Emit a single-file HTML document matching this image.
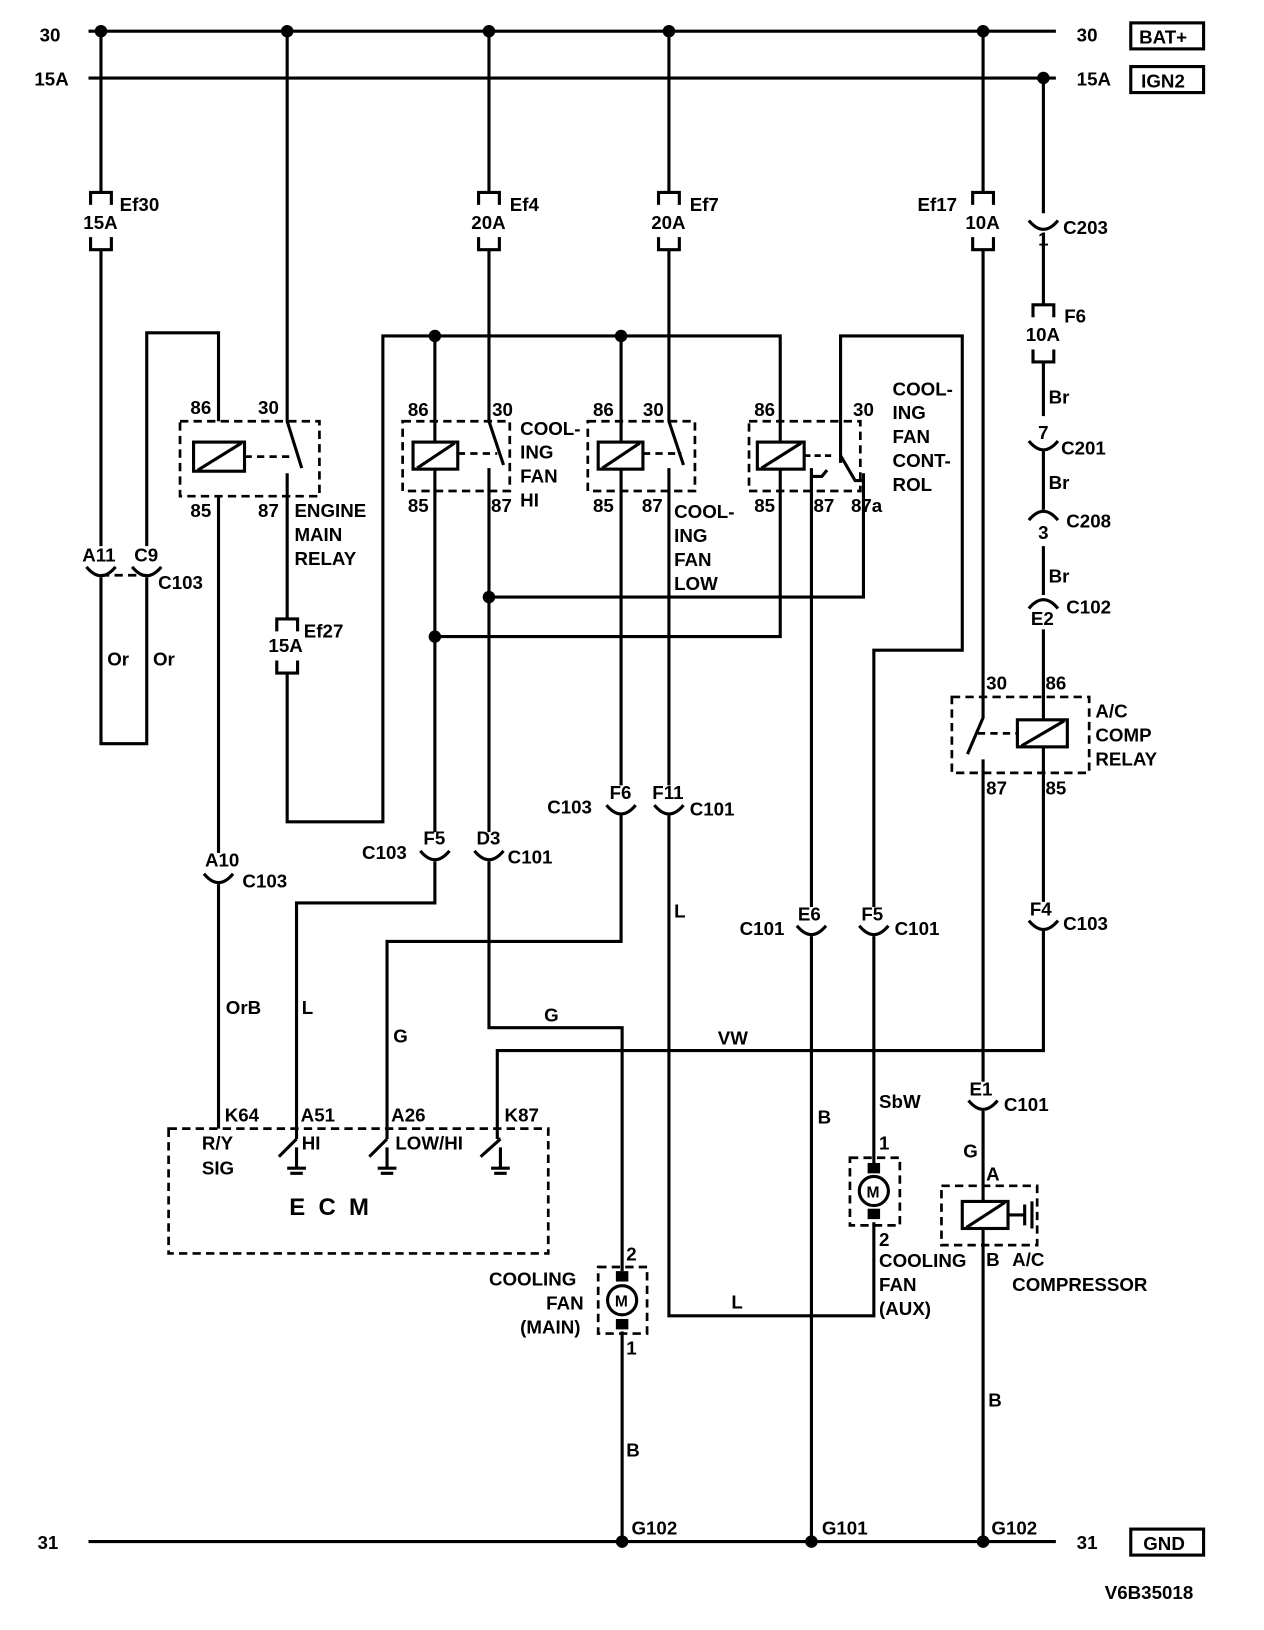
<!DOCTYPE html>
<html><head><meta charset="utf-8"><style>
html,body{margin:0;padding:0;background:#fff}
svg{display:block}
text{font-family:"Liberation Sans",sans-serif;font-weight:bold;font-size:18px;fill:#000}
.w{stroke:#000;stroke-width:3;fill:none}
.d{stroke:#000;stroke-width:2.6;fill:none;stroke-dasharray:8 5}
.t{stroke:#000;stroke-width:3;fill:#fff}
</style></head><body>
<svg width="1264" height="1630" viewBox="0 0 1215 1567" xmlns="http://www.w3.org/2000/svg">
<path class="w" d="M85 30H1015 M85 75H1015 M85 1482H1015"/>
<text x="38" y="40">30</text><text x="33" y="82">15A</text><text x="36" y="1489">31</text>
<text x="1035" y="40">30</text><text x="1035" y="82">15A</text><text x="1035" y="1489">31</text>
<rect x="1087" y="22" width="70" height="25" class="w"/><text x="1095" y="42">BAT+</text>
<rect x="1087" y="64" width="70" height="25" class="w"/><text x="1097" y="84">IGN2</text>
<rect x="1087" y="1470" width="70" height="25" class="w"/><text x="1099" y="1490">GND</text>
<text x="1062" y="1537">V6B35018</text>
<g fill="#000"><circle cx="97" cy="30" r="6"/><circle cx="276" cy="30" r="6"/><circle cx="470" cy="30" r="6"/><circle cx="643" cy="30" r="6"/><circle cx="945" cy="30" r="6"/><circle cx="1003" cy="75" r="6"/>
<circle cx="598" cy="1482" r="6"/><circle cx="780" cy="1482" r="6"/><circle cx="945" cy="1482" r="6"/>
<circle cx="418" cy="323" r="6"/><circle cx="597" cy="323" r="6"/><circle cx="470" cy="574" r="6"/><circle cx="418" cy="612" r="6"/></g>
<text x="607" y="1475">G102</text><text x="790" y="1475">G101</text><text x="953" y="1475">G102</text>

<path class="w" d="M87 197V185H107V197 M87 228V240H107V240V228"/><text x="80" y="220">15A</text><text x="115" y="203">Ef30</text>
<path class="w" d="M460 197V185H480V197 M460 228V240H480V228"/><text x="453" y="220">20A</text><text x="490" y="203">Ef4</text>
<path class="w" d="M633 197V185H653V197 M633 228V240H653V228"/><text x="626" y="220">20A</text><text x="663" y="203">Ef7</text>
<path class="w" d="M935 197V185H955V197 M935 228V240H955V228"/><text x="928" y="220">10A</text><text x="882" y="203">Ef17</text>
<path class="w" d="M993 305V293H1013V305 M993 336V348H1013V336"/><text x="986" y="328">10A</text><text x="1023" y="310">F6</text>
<path class="w" d="M266 607V595H286V607 M266 635V647H286V635"/><text x="258" y="627">15A</text><text x="292" y="613">Ef27</text>

<path class="w" d="M97 30V185 M97 240V525 M97 555V715H141V555 M141 525V320H210V405"/>
<path class="w" d="M210 477V820 M210 850V1085"/>
<path class="w" d="M276 30V405 L290 450 M276 455V595 M276 647V790H368V323H750V612H418 M418 323V800 M418 828V868H285V1095"/>
<path class="w" d="M470 30V185 M470 240V405 L484 447 M470 450V800 M470 828V988H598V1222 M598 1280V1482"/>
<path class="w" d="M470 574H830V455"/>
<path class="w" d="M597 323V755 M597 784V905H372V1095"/>
<path class="w" d="M643 30V185 M643 240V405 L657 447 M643 450V755 M643 784V1265H840V1175"/>
<path class="w" d="M808 445V323H925V625H840V872 M840 900V1118"/>
<path class="w" d="M780 450V872 M780 900V1482"/>
<path class="w" d="M945 30V185 M945 240V690 L930 725 M945 730V1040 M945 1068V1482"/>
<path class="w" d="M1003 75V205 M1003 225V293 M1003 348V400 M1003 434V490 M1003 525V572 M1003 605V867 M1003 895V1010H478V1095"/>

<path class="w" d="M83 545Q97 562 111 545 M127 545Q141 562 155 545"/><path class="d" d="M97 553H141"/>
<text x="79" y="540">A11</text><text x="129" y="540">C9</text><text x="152" y="566">C103</text>
<text x="197" y="833">A10</text><path class="w" d="M196 840Q210 857 224 840"/><text x="233" y="853">C103</text>
<text x="407" y="812">F5</text><path class="w" d="M404 818Q418 835 432 818"/><text x="348" y="826">C103</text>
<text x="458" y="812">D3</text><path class="w" d="M456 818Q470 835 484 818"/><text x="488" y="830">C101</text>
<text x="586" y="768">F6</text><path class="w" d="M583 774Q597 791 611 774"/><text x="526" y="782">C103</text>
<text x="627" y="768">F11</text><path class="w" d="M629 774Q643 791 657 774"/><text x="663" y="784">C101</text>
<text x="767" y="885">E6</text><path class="w" d="M766 890Q780 907 794 890"/><text x="711" y="899">C101</text>
<text x="828" y="885">F5</text><path class="w" d="M826 890Q840 907 854 890"/><text x="860" y="899">C101</text>
<text x="990" y="880">F4</text><path class="w" d="M989 885Q1003 902 1017 885"/><text x="1022" y="894">C103</text>
<text x="932" y="1053">E1</text><path class="w" d="M931 1058Q945 1075 959 1058"/><text x="965" y="1068">C101</text>
<text x="998" y="236">1</text><path class="w" d="M989 212Q1003 229 1017 212"/><text x="1022" y="225">C203</text>
<text x="998" y="422">7</text><path class="w" d="M989 424Q1003 441 1017 424"/><text x="1020" y="437">C201</text>
<path class="w" d="M989 500Q1003 483 1017 500"/><text x="998" y="518">3</text><text x="1025" y="507">C208</text>
<path class="w" d="M989 585Q1003 568 1017 585"/><text x="991" y="601">E2</text><text x="1025" y="590">C102</text>

<text x="103" y="640">Or</text><text x="147" y="640">Or</text><text x="217" y="975">OrB</text><text x="290" y="975">L</text>
<text x="378" y="1002">G</text><text x="523" y="982">G</text><text x="690" y="1004">VW</text><text x="648" y="882">L</text>
<text x="786" y="1080">B</text><text x="845" y="1065">SbW</text><text x="926" y="1113">G</text><text x="950" y="1352">B</text>
<text x="602" y="1400">B</text><text x="703" y="1258">L</text>
<text x="1008" y="388">Br</text><text x="1008" y="470">Br</text><text x="1008" y="560">Br</text>

<rect x="173" y="405" width="134" height="72" class="d"/>
<rect x="186" y="425" width="49" height="28" class="t"/><path class="w" d="M190 452L232 426"/><path class="d" d="M235 439H282" style="stroke-dasharray:7 5"/>
<text x="183" y="398">86</text><text x="248" y="398">30</text><text x="183" y="497">85</text><text x="248" y="497">87</text>
<text x="283" y="497">ENGINE</text><text x="283" y="520">MAIN</text><text x="283" y="543">RELAY</text>
<rect x="387" y="405" width="103" height="67" class="d"/>
<rect x="397" y="425" width="43" height="26" class="t"/><path class="w" d="M401 450L437 426"/><path class="d" d="M440 436H478" style="stroke-dasharray:7 5"/>
<text x="392" y="400">86</text><text x="473" y="400">30</text><text x="392" y="492">85</text><text x="472" y="492">87</text>
<text x="500" y="418">COOL-</text><text x="500" y="441">ING</text><text x="500" y="464">FAN</text><text x="500" y="487">HI</text>
<rect x="565" y="405" width="103" height="67" class="d"/>
<rect x="575" y="425" width="43" height="26" class="t"/><path class="w" d="M579 450L615 426"/><path class="d" d="M618 436H655" style="stroke-dasharray:7 5"/>
<text x="570" y="400">86</text><text x="618" y="400">30</text><text x="570" y="492">85</text><text x="617" y="492">87</text>
<text x="648" y="498">COOL-</text><text x="648" y="521">ING</text><text x="648" y="544">FAN</text><text x="648" y="567">LOW</text>
<rect x="720" y="405" width="107" height="67" class="d"/>
<rect x="728" y="425" width="45" height="26" class="t"/><path class="w" d="M732 450L770 426"/><path class="d" d="M773 438H800" style="stroke-dasharray:6 4"/>
<path class="w" d="M808 438L822 462H830 M780 470V458H790L795 452"/>
<text x="725" y="400">86</text><text x="820" y="400">30</text><text x="725" y="492">85</text><text x="782" y="492">87</text><text x="818" y="492">87a</text>
<text x="858" y="380">COOL-</text><text x="858" y="403">ING</text><text x="858" y="426">FAN</text><text x="858" y="449">CONT-</text><text x="858" y="472">ROL</text>
<rect x="915" y="670" width="132" height="73" class="d"/>
<rect x="978" y="692" width="48" height="26" class="t"/><path class="w" d="M982 717L1023 693"/><path class="d" d="M940 705H978" style="stroke-dasharray:7 5"/>
<text x="948" y="663">30</text><text x="1005" y="663">86</text><text x="948" y="764">87</text><text x="1005" y="764">85</text>
<text x="1053" y="690">A/C</text><text x="1053" y="713">COMP</text><text x="1053" y="736">RELAY</text>

<rect x="162" y="1085" width="365" height="120" class="d"/>
<text x="216" y="1078">K64</text><text x="289" y="1078">A51</text><text x="376" y="1078">A26</text><text x="485" y="1078">K87</text>
<text x="194" y="1105">R/Y</text><text x="194" y="1129">SIG</text><text x="290" y="1105">HI</text><text x="380" y="1105">LOW/HI</text>
<path class="w" d="M285 1095L268 1112 M285 1103V1123 M276 1123H294 M372 1095L355 1112 M372 1103V1123 M363 1123H381 M478 1095L481 1095 M481 1095L462 1112 M481 1103V1123 M472 1123H490"/>
<path class="w" d="M279 1128H291 M366 1128H378 M475 1128H487"/>
<text x="278" y="1168" style="font-size:23px">E&#160;&#160;C&#160;&#160;M</text>

<rect x="575" y="1218" width="47" height="64" class="d"/>
<rect x="592" y="1222" width="12" height="10" fill="#000"/><rect x="592" y="1268" width="12" height="10" fill="#000"/>
<circle cx="598" cy="1250" r="14" class="t"/><text x="591" y="1256" style="font-size:15px">M</text>
<text x="602" y="1212">2</text><text x="602" y="1302">1</text>
<text x="470" y="1236">COOLING</text><text x="525" y="1259">FAN</text><text x="500" y="1282">(MAIN)</text>
<rect x="817" y="1113" width="48" height="65" class="d"/>
<rect x="834" y="1118" width="12" height="10" fill="#000"/><rect x="834" y="1162" width="12" height="10" fill="#000"/>
<circle cx="840" cy="1145" r="14" class="t"/><text x="833" y="1151" style="font-size:15px">M</text>
<text x="845" y="1105">1</text><text x="845" y="1198">2</text>
<text x="845" y="1218">COOLING</text><text x="845" y="1241">FAN</text><text x="845" y="1264">(AUX)</text>
<rect x="905" y="1140" width="92" height="57" class="d"/>
<rect x="925" y="1155" width="44" height="26" class="t"/><path class="w" d="M929 1180L966 1156 M969 1168H985 M985 1158V1178 M992 1155V1181"/>
<text x="948" y="1135">A</text><text x="948" y="1217">B</text>
<text x="973" y="1217">A/C</text><text x="973" y="1241">COMPRESSOR</text>
</svg>
</body></html>
